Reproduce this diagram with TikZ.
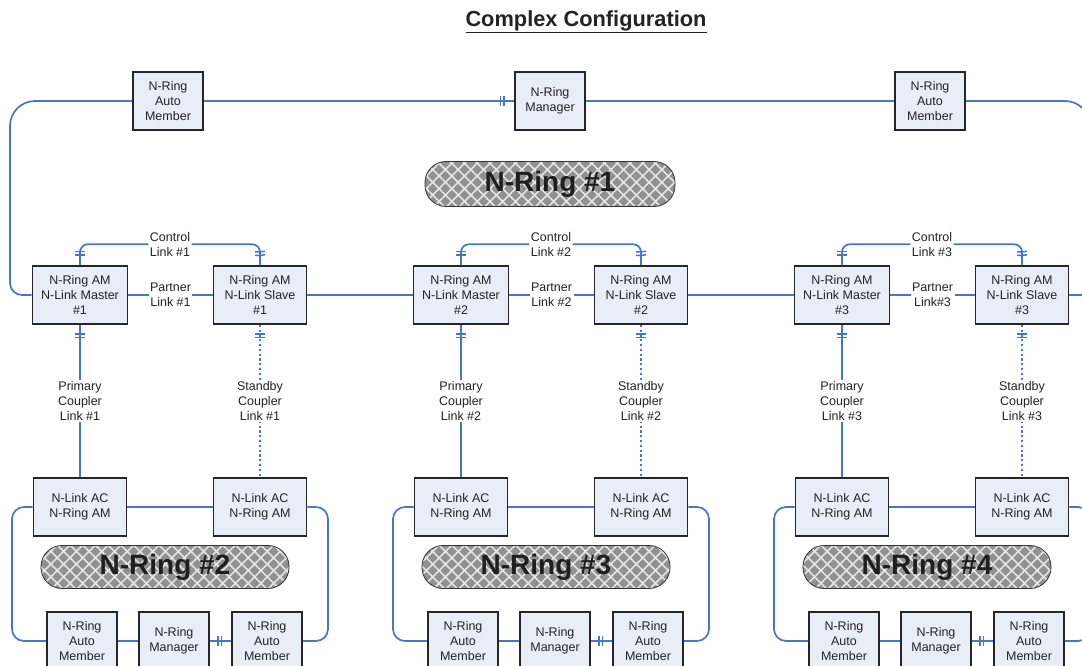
\documentclass[tikz,border=0pt]{standalone}
\usepackage{fontspec}
\setmainfont{Liberation Sans}
\usetikzlibrary{decorations.markings,patterns.meta}
\definecolor{ringblue}{RGB}{72,118,196}
\definecolor{boxfill}{RGB}{232,238,247}
\definecolor{pillgray}{RGB}{145,145,145}
\definecolor{inktext}{RGB}{35,35,35}
\tikzset{
  dev/.style={draw=black!85,line width=1.6,fill=boxfill,align=center,text=inktext,
    font=\fontsize{12.5}{15}\selectfont,inner sep=0,minimum height=58},
  pill/.style={draw=black!80,line width=0.8,preaction={fill=pillgray},
    pattern={Hatch[angle=45,distance=9pt,line width=1.6pt]},pattern color=white!80!gray,
    rounded corners=21,font=\fontsize{28}{30}\bfseries\selectfont,text=black!88,inner sep=0},
  lbl/.style={fill=white,align=center,text=inktext,font=\fontsize{12.5}{15}\selectfont,inner sep=1.5},
  link/.style={color=ringblue,line width=1.7},
  standby/.style={dash pattern=on 2.2pt off 2.6pt},
  dtick/.style={postaction={decorate,decoration={markings,
    mark=at position #1 with {\draw[solid,ringblue,line width=1.5] (0,-5) -- (0,5) (3.5,-5) -- (3.5,5);}}}},
}
\begin{document}
\begin{tikzpicture}[x=1pt,y=-1pt]
\path[use as bounding box,clip] (0,0) rectangle (1082,666);
\node[font=\fontsize{21.8}{24}\bfseries\selectfont,text=inktext] (title) at (586,22) {\underline{Complex Configuration}};
% top ring
\node[dev,minimum width=70] (ram1) at (168,101) {N-Ring\\Auto\\Member};
\node[dev,minimum width=70] (rmgr) at (550,101) {N-Ring\\Manager};
\node[dev,minimum width=70] (ram2) at (930,101) {N-Ring\\Auto\\Member};
\node[pill,minimum width=250,minimum height=45] (ring1) at (550,184) {N-Ring \#1};
% one column per coupler pair, edit the shift here
\foreach \i/\pl [evaluate=\i as \r using int(\i+1)] in {1/Link \#1,2/Link \#2,3/Link\#3}{
\begin{scope}[xshift={(\i-1)*381}]
\node[dev,minimum width=95] (mst\i) at (80,295) {N-Ring AM\\N-Link Master\\\#\i};
\node[dev,minimum width=93] (slv\i) at (260,295) {N-Ring AM\\N-Link Slave\\\#\i};
\node[dev,minimum width=93] (acm\i) at (80,507) {N-Link AC\\N-Ring AM};
\node[dev,minimum width=93] (acs\i) at (260,507) {N-Link AC\\N-Ring AM};
\node[dev,minimum width=70] (bam\i) at (82,641) {N-Ring\\Auto\\Member};
\node[dev,minimum width=70] (bmg\i) at (174,641) {N-Ring\\Manager};
\node[dev,minimum width=70] (bas\i) at (267,641) {N-Ring\\Auto\\Member};
\node[pill,minimum width=248,minimum height=43] (ring\r) at (165,567) {N-Ring \#\r};
\draw[link] (mst\i) -- node[lbl]{Partner\\\pl} (slv\i);
\draw[link,rounded corners=8,dtick=10pt,dtick=-13.5pt] (mst\i.north) -- ++(0,-21)
  -| node[lbl,pos=0.25]{Control\\Link \#\i} (slv\i.north);
\draw[link,dtick=9pt] (mst\i) -- node[lbl]{Primary\\Coupler\\Link \#\i} (acm\i);
\draw[link,standby,dtick=9pt] (slv\i) -- node[lbl]{Standby\\Coupler\\Link \#\i} (acs\i);
% lower ring
\draw[link] (acm\i) -- (acs\i);
\draw[link,rounded corners=12] (acm\i.west) -- (12,507) -- (12,641) -- (bam\i.west);
\draw[link] (bam\i) -- (bmg\i);
\draw[link,dtick=8pt] (bmg\i) -- (bas\i);
\draw[link,rounded corners=12] (acs\i.east) -- (328,507) -- (328,641) -- (bas\i.east);
\end{scope}
}
% top ring links
\coordinate (ledge) at (10,200);
\coordinate (redge) at (1090,295);
\draw[link,rounded corners=25] (ram1.west) -| (ledge);
\draw[link,rounded corners=12] (ledge) |- (mst1.west);
\draw[link,dtick=-13.5pt] (ram1) -- (rmgr);
\draw[link] (rmgr) -- (ram2);
\draw[link,rounded corners=25] (ram2.east) -| (redge);
\draw[link] (slv3.east) -- (redge);
\draw[link] (slv1) -- (mst2);
\draw[link] (slv2) -- (mst3);
\end{tikzpicture}
\end{document}
